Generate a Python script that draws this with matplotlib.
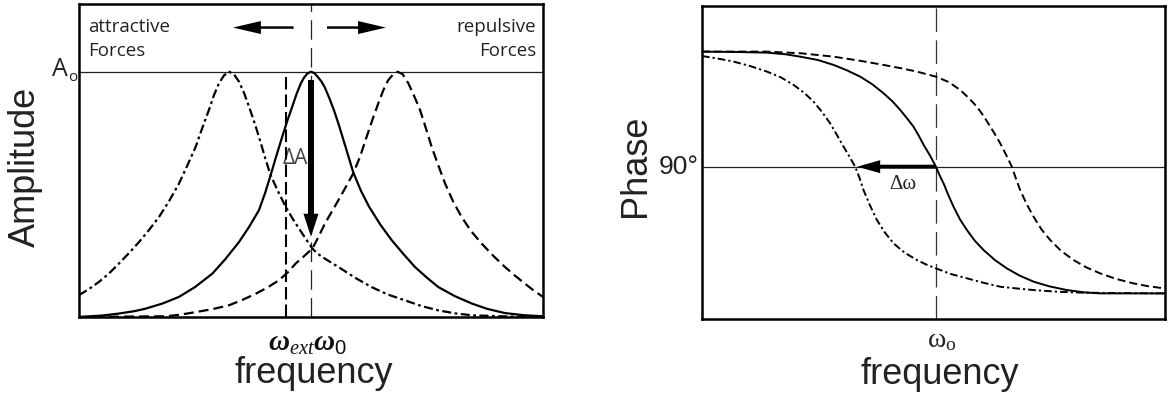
import numpy as np
import matplotlib.pyplot as plt

plt.rcParams['lines.scale_dashes'] = False
plt.rcParams['mathtext.fontset'] = 'custom'
plt.rcParams['mathtext.rm'] = 'Liberation Serif'
plt.rcParams['mathtext.it'] = 'Liberation Serif:italic:bold'
plt.rcParams['mathtext.bf'] = 'Liberation Serif:bold'
plt.rcParams['mathtext.cal'] = 'Liberation Serif:italic'
plt.rcParams['mathtext.sf'] = 'Liberation Sans'

# --- amplitude curves (x: frequency offset, y: amplitude / A0) ---
amp_solid_x = [-1.0, -0.9, -0.828, -0.76, -0.713, -0.64, -0.569, -0.5, -0.425, -0.37,
               -0.310, -0.265, -0.224, -0.198, -0.174, -0.150, -0.124, -0.102, -0.081, -0.062,
               -0.044, -0.030, -0.015, 0.0, 0.015, 0.030, 0.045, 0.060, 0.080, 0.100,
               0.118, 0.150, 0.182, 0.215, 0.250, 0.300, 0.348, 0.400, 0.448, 0.500,
               0.549, 0.620, 0.693, 0.760, 0.836, 0.920, 1.0]
amp_solid_y = [0.0, 0.006, 0.014, 0.024, 0.034, 0.055, 0.082, 0.122, 0.177, 0.235,
               0.306, 0.370, 0.436, 0.505, 0.578, 0.655, 0.735, 0.800, 0.857, 0.910,
               0.952, 0.976, 0.993, 1.0, 0.994, 0.978, 0.960, 0.935, 0.890, 0.840,
               0.789, 0.690, 0.590, 0.515, 0.450, 0.375, 0.313, 0.255, 0.204, 0.160,
               0.122, 0.085, 0.055, 0.033, 0.016, 0.007, 0.003]

amp_attr_x = [-1.0, -0.957, -0.914, -0.870, -0.828, -0.785, -0.741, -0.698, -0.655, -0.612,
              -0.569, -0.533, -0.497, -0.468, -0.440, -0.418, -0.397, -0.375, -0.353, -0.331,
              -0.310, -0.288, -0.267, -0.240, -0.216, -0.195, -0.174, -0.140, -0.109, -0.080,
              -0.052, -0.022, 0.006, 0.030, 0.060, 0.090, 0.118, 0.190, 0.261, 0.330,
              0.405, 0.475, 0.549, 0.620, 0.693, 0.850, 1.0]
amp_attr_y = [0.089, 0.114, 0.143, 0.178, 0.218, 0.260, 0.306, 0.355, 0.408, 0.472,
              0.544, 0.618, 0.694, 0.772, 0.844, 0.905, 0.952, 0.985, 1.0, 0.988,
              0.959, 0.912, 0.857, 0.782, 0.708, 0.640, 0.578, 0.508, 0.449, 0.402,
              0.361, 0.318, 0.279, 0.257, 0.238, 0.220, 0.204, 0.160, 0.122, 0.092,
              0.068, 0.045, 0.027, 0.015, 0.007, 0.002, 0.0]

amp_rep_x = [-1.0, -0.623, -0.560, -0.497, -0.425, -0.353, -0.295, -0.238, -0.188, -0.138,
             -0.100, -0.066, -0.030, 0.006, 0.033, 0.060, 0.090, 0.118, 0.150, 0.182,
             0.212, 0.240, 0.265, 0.290, 0.312, 0.333, 0.355, 0.373, 0.395, 0.420,
             0.445, 0.470, 0.495, 0.520, 0.548, 0.578, 0.612, 0.649, 0.690, 0.736,
             0.785, 0.836, 0.880, 0.922, 0.960, 1.0]
amp_rep_y = [0.0, 0.003, 0.010, 0.020, 0.032, 0.048, 0.070, 0.095, 0.120, 0.150,
             0.182, 0.218, 0.248, 0.279, 0.328, 0.381, 0.430, 0.476, 0.530, 0.585,
             0.655, 0.735, 0.805, 0.871, 0.925, 0.966, 0.990, 1.0, 0.990, 0.952,
             0.900, 0.844, 0.770, 0.694, 0.620, 0.544, 0.472, 0.408, 0.350, 0.299,
             0.250, 0.204, 0.168, 0.136, 0.108, 0.082]

w_ext = -0.109
delta_a_top, delta_a_bottom = 0.966, 0.327

# --- phase curves (degrees) ---
ph_solid_x = [-1.011, -0.850, -0.730, -0.650, -0.586, -0.510, -0.442, -0.385, -0.327, -0.275,
              -0.226, -0.188, -0.154, -0.125, -0.097, -0.075, -0.053, -0.026, 0.0, 0.016,
              0.033, 0.053, 0.076, 0.104, 0.134, 0.168, 0.206, 0.255, 0.306, 0.362,
              0.422, 0.490, 0.566, 0.640, 0.710, 0.991]
ph_solid = [176.3, 176.0, 175.5, 174.3, 172.5, 170.0, 166.3, 162.3, 157.5, 151.8,
            145.0, 139.0, 132.5, 126.3, 120.0, 113.5, 106.3, 98.5, 90.0, 83.5,
            77.5, 69.0, 60.0, 50.5, 42.5, 34.5, 27.5, 20.0, 13.8, 8.3,
            3.8, 0.3, -2.5, -4.2, -5.0, -5.0]

ph_rep_x = [-1.011, -0.730, -0.580, -0.442, -0.330, -0.226, -0.150, -0.082, 0.0, 0.055,
            0.105, 0.142, 0.177, 0.208, 0.235, 0.258, 0.278, 0.303, 0.328, 0.346,
            0.364, 0.392, 0.422, 0.456, 0.494, 0.540, 0.595, 0.650, 0.710, 0.780,
            0.854, 0.920, 0.991]
ph_rep = [176.3, 176.3, 175.0, 172.5, 169.5, 166.3, 163.8, 161.3, 157.5, 153.5,
          147.5, 141.5, 135.0, 127.5, 120.0, 113.5, 107.5, 99.0, 90.0, 81.0,
          72.5, 62.0, 52.5, 43.0, 35.0, 27.0, 20.0, 14.5, 10.0, 5.8,
          2.5, 0.3, -1.3]

ph_attr_x = [-1.011, -0.940, -0.874, -0.800, -0.730, -0.670, -0.615, -0.570, -0.529, -0.492,
             -0.457, -0.427, -0.399, -0.373, -0.349, -0.330, -0.313, -0.285, -0.255, -0.220,
             -0.183, -0.135, -0.082, -0.040, 0.0, 0.065, 0.134, 0.205, 0.278, 0.350,
             0.422, 0.530, 0.638, 0.991]
ph_attr = [173.0, 171.0, 168.8, 165.3, 161.3, 157.0, 151.3, 145.5, 138.8, 131.0,
           122.5, 113.5, 105.0, 97.3, 90.0, 81.5, 72.5, 61.0, 50.0, 40.5,
           32.5, 25.5, 20.0, 16.5, 13.8, 9.5, 6.3, 3.0, 0.0, -1.3,
           -2.5, -3.8, -4.5, -5.0]

delta_w_tip = -0.34

W, H = 1171, 396
fig = plt.figure(figsize=(W / 100, H / 100), dpi=100)
ax1 = fig.add_axes([79 / W, (H - 317) / H, 464 / W, 313 / H])
ax2 = fig.add_axes([702 / W, (H - 319) / H, 463 / W, 313 / H])

dash = (0, (7.2, 3.6))
dashdot = (0, (6.5, 2.5, 2.0, 2.5))

# ---------------- left: amplitude ----------------
ax1.set_xlim(-1, 1)
ax1.set_ylim(0, 1.276)
ax1.axhline(1.0, color='#222', lw=0.9)
ax1.axvline(0, color='#222', lw=0.9, ls=(0, (14, 6)))
ax1.plot([w_ext, w_ext], [0, 1.0], color='k', lw=1.5, ls=(0, (9, 3.6)))

ax1.text(-0.069, 0.646, 'ΔA', ha='center', va='center', fontsize=15,
         color='#444', family='Open Sans', zorder=1)

ax1.plot(amp_solid_x, amp_solid_y, color='k', lw=1.6)
ax1.plot(amp_attr_x, amp_attr_y, color='k', lw=1.6, ls=dashdot)
ax1.plot(amp_rep_x, amp_rep_y, color='k', lw=1.6, ls=dash)

ax1.arrow(0, delta_a_top, 0, delta_a_bottom - delta_a_top, width=0.026, head_width=0.065,
          head_length=0.094, length_includes_head=True, fc='k', ec='none', zorder=5)

# force direction arrows
ax1.arrow(-0.075, 1.18, -0.261, 0, width=0.010, head_width=0.053, head_length=0.12,
          length_includes_head=True, fc='k', ec='none')
ax1.arrow(0.069, 1.18, 0.254, 0, width=0.010, head_width=0.053, head_length=0.12,
          length_includes_head=True, fc='k', ec='none')

ta = ax1.transAxes
ax1.text(0.019, 0.910, 'attractive', transform=ta, ha='left', va='baseline',
         fontsize=13.5, family='Open Sans', color='#222')
ax1.text(0.019, 0.833, 'Forces', transform=ta, ha='left', va='baseline',
         fontsize=13.5, family='Open Sans', color='#222')
ax1.text(0.985, 0.910, 'repulsive', transform=ta, ha='right', va='baseline',
         fontsize=13.5, family='Open Sans', color='#222')
ax1.text(0.985, 0.833, 'Forces', transform=ta, ha='right', va='baseline',
         fontsize=13.5, family='Open Sans', color='#222')

ty = ax1.get_yaxis_transform()
ax1.text(-0.024, 0.982, 'A', transform=ty, ha='right', va='baseline',
         fontsize=18, family='Open Sans', color='#222', clip_on=False)
ax1.text(-0.024, 0.962, 'o', transform=ty, ha='left', va='baseline',
         fontsize=11, family='Open Sans', color='#222', clip_on=False)

ax1.text(-0.017, -0.109, r'$\omega_{\mathcal{ext}}\omega_{\mathsf{0}}$',
         transform=ax1.get_xaxis_transform(),
         ha='center', va='baseline', fontsize=21, color='#111', clip_on=False)

# ---------------- right: phase ----------------
ax2.set_xlim(-1.011, 0.99)
ax2.set_ylim(-24.2, 210.5)
ax2.axhline(90, color='#222', lw=0.9)
ax2.axvline(0, color='#333', lw=0.9, ls=(0, (17, 6)))

ax2.plot(ph_solid_x, ph_solid, color='k', lw=1.4)
ax2.plot(ph_rep_x, ph_rep, color='k', lw=1.4, ls=(0, (5.8, 2.9)))
ax2.plot(ph_attr_x, ph_attr, color='k', lw=1.4, ls=(0, (5.5, 2.2, 1.6, 2.2)))

ax2.arrow(0, 90, delta_w_tip, 0, width=3.0, head_width=9.75, head_length=0.099,
          length_includes_head=True, fc='k', ec='none', zorder=5)
ax2.text(-0.141, 76.6, 'Δω', ha='center', va='center', fontsize=15,
         family='Liberation Serif', color='#222')

ax2.text(-0.006, 90, '90°', transform=ax2.get_yaxis_transform(), ha='right', va='center',
         fontsize=19, family='Liberation Sans', color='#222', clip_on=False)
ax2.text(0.023, -0.089, r'$\mathrm{\omega_{o}}$', transform=ax2.get_xaxis_transform(),
         ha='center', va='baseline', fontsize=20, color='#222', clip_on=False)

for ax in (ax1, ax2):
    ax.set_xticks([])
    ax.set_yticks([])
    for s in ax.spines.values():
        s.set_linewidth(1.8)

lab = dict(fontsize=26, family='Liberation Sans', color='#222')
fig.text(314 / W, (H - 383) / H, 'frequency', ha='center', va='baseline', **lab)
fig.text(940 / W, (H - 384) / H, 'frequency', ha='center', va='baseline', **lab)
fig.text(25 / W, (H - 166.5) / H, 'Amplitude', rotation=90, ha='center', va='center', **lab)
fig.text(635 / W, (H - 166) / H, 'Phase', rotation=90, ha='center', va='center', **lab)

fig.savefig('out.png', dpi=100)
